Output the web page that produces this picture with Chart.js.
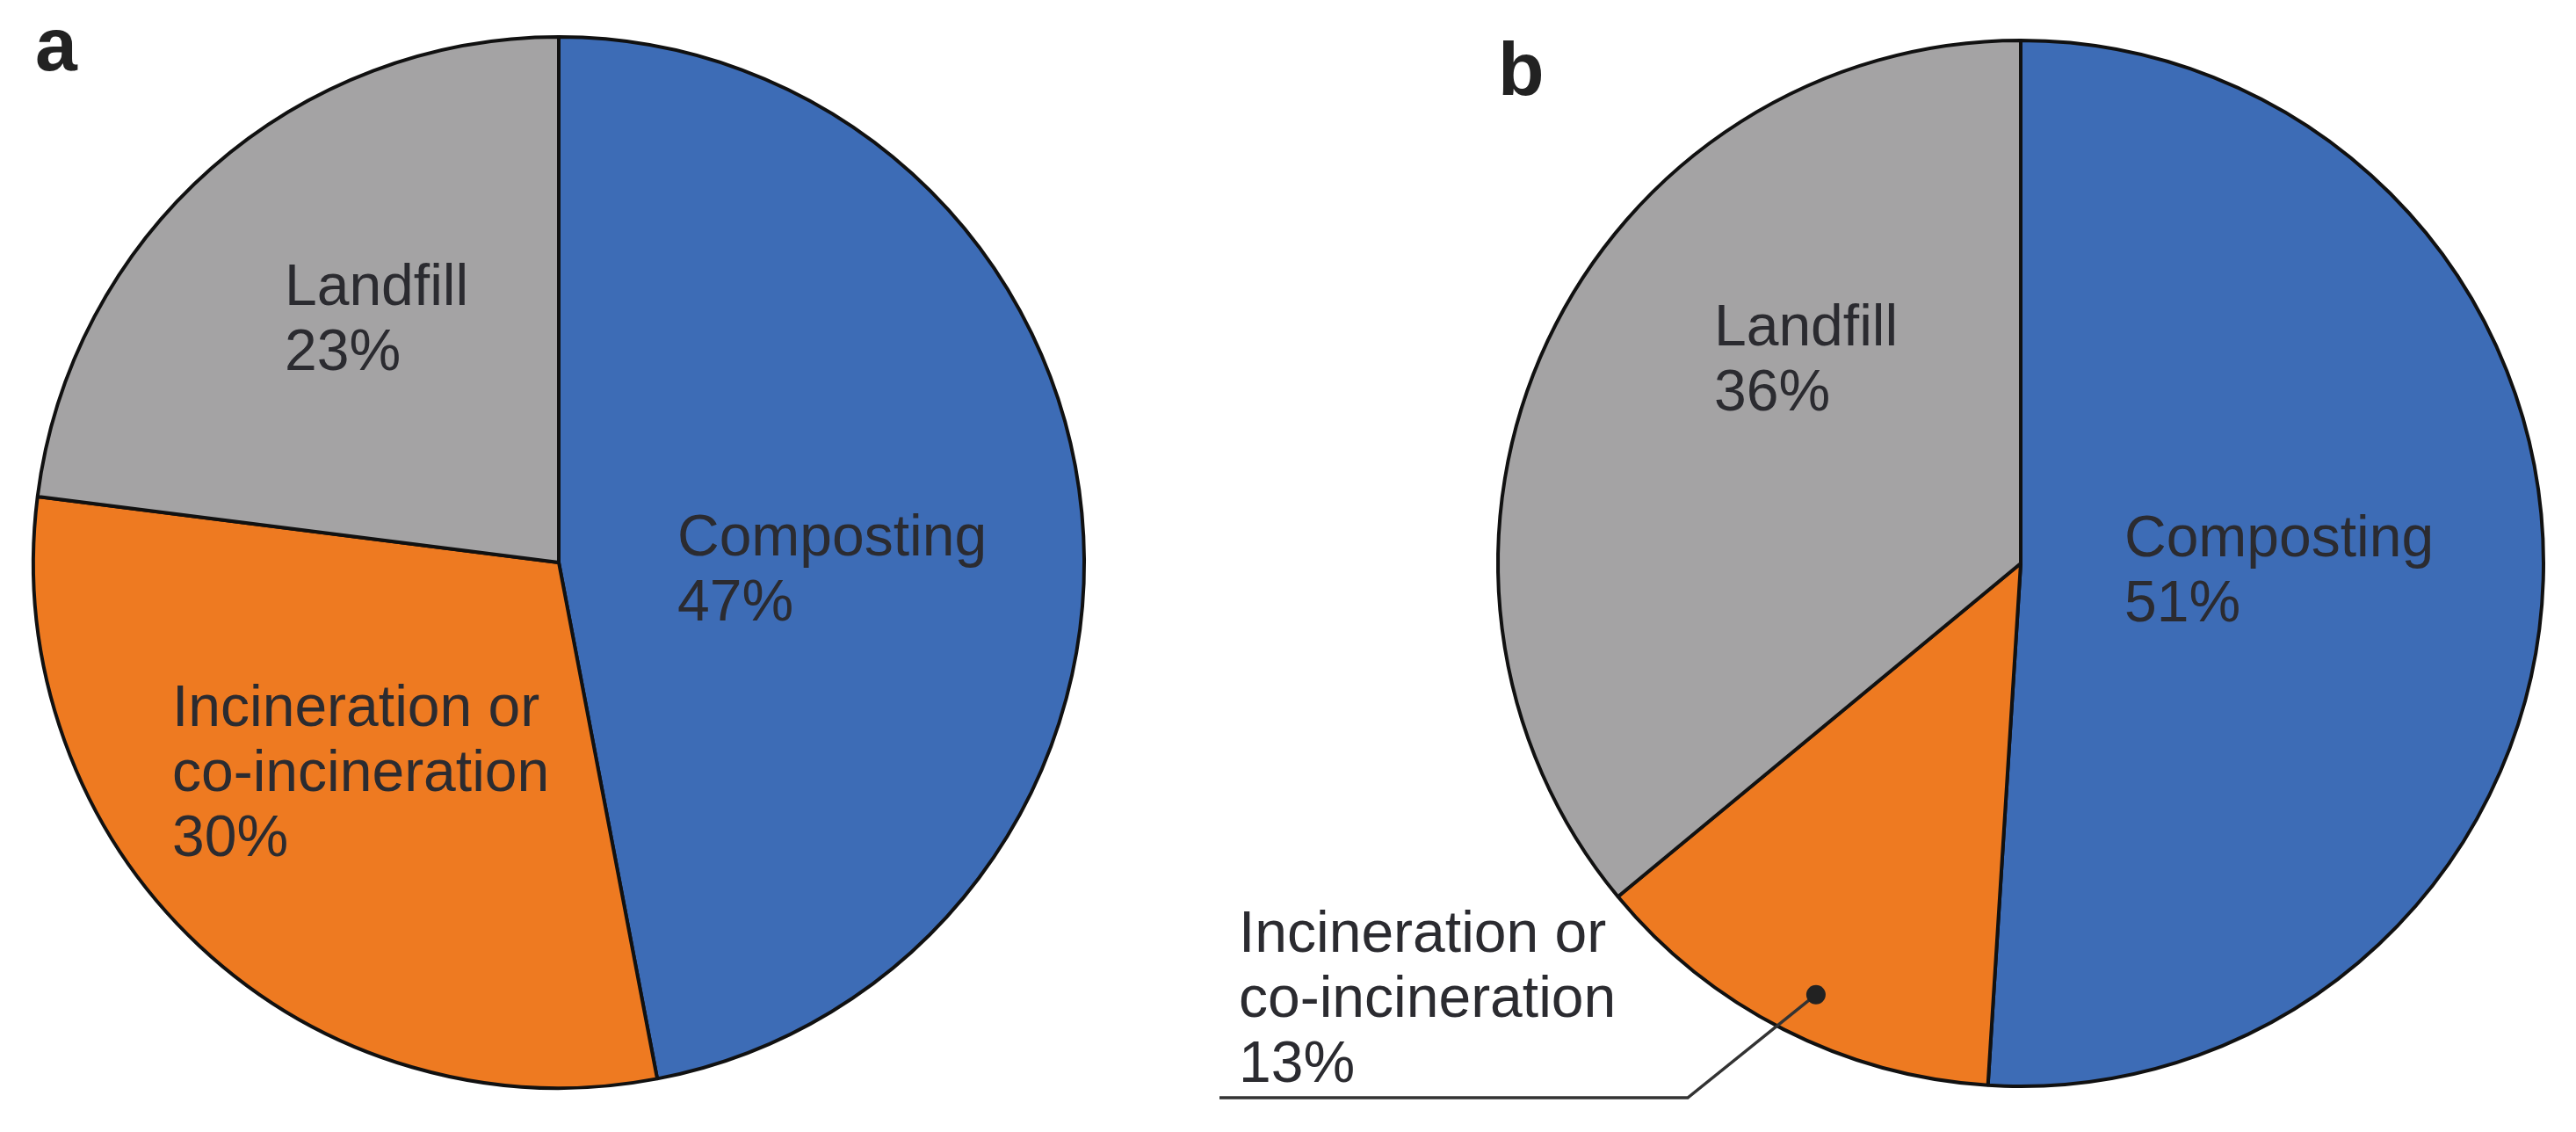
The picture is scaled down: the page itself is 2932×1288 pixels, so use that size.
<!DOCTYPE html>
<html>
<head>
<meta charset="utf-8">
<script src="https://cdn.jsdelivr.net/npm/chart.js@4.4.1/dist/chart.umd.min.js"></script>
<style>
  html, body { margin: 0; padding: 0; background: #fff; }
  body { width: 2932px; height: 1288px; overflow: hidden; position: relative; }
  canvas { position: absolute; top: 0; }
</style>
</head>
<body>
<canvas id="pieA" width="1300" height="1288" style="left:0"></canvas>
<canvas id="pieB" width="1632" height="1288" style="left:1300px"></canvas>
<script>
  // data
  const categories = ['Composting', 'Incineration or co-incineration', 'Landfill'];
  const labelLines = [['Composting'], ['Incineration or', 'co-incineration'], ['Landfill']];
  const sharesA = [47, 30, 23];
  const sharesB = [51, 13, 36];
  const sliceColors = ['#3d6cb6', '#ee7a21', '#a4a3a4'];

  const textFont = '66px "Liberation Sans", Arial, sans-serif';
  const panelFont = 'bold 86px "Liberation Sans", Arial, sans-serif';
  const lineGap = 74;

  // labels drawn inside / next to the slices, relative to the pie centre
  const sliceLabels = {
    id: 'sliceLabels',
    afterDatasetsDraw(chart, args, opts) {
      const ctx = chart.ctx;
      const arcs = chart.getDatasetMeta(0).data;
      const cx = arcs[0].x, cy = arcs[0].y, r = arcs[0].outerRadius;
      const values = chart.data.datasets[0].data;

      ctx.save();
      ctx.fillStyle = '#2b2b30';
      ctx.font = textFont;
      ctx.textAlign = 'left';
      ctx.textBaseline = 'alphabetic';
      chart.data.labels.forEach((name, i) => {
        const pos = opts.positions[i];
        const lines = labelLines[i].concat(values[i] + '%');
        lines.forEach((t, k) => ctx.fillText(t, cx + pos[0], cy + pos[1] + k * lineGap));
      });

      // leader line for a small slice
      if (opts.leader) {
        const arc = arcs[opts.leader.index];
        const ang = arc.startAngle + (arc.endAngle - arc.startAngle) * opts.leader.at;
        const dx = cx + Math.cos(ang) * r * opts.leader.depth;
        const dy = cy + Math.sin(ang) * r * opts.leader.depth;
        ctx.strokeStyle = '#333';
        ctx.lineWidth = 3.5;
        ctx.beginPath();
        ctx.moveTo(dx, dy);
        ctx.lineTo(cx + opts.leader.elbow[0], cy + opts.leader.elbow[1]);
        ctx.lineTo(cx + opts.leader.endX, cy + opts.leader.elbow[1]);
        ctx.stroke();
        ctx.fillStyle = '#222';
        ctx.beginPath();
        ctx.arc(dx, dy, 11, 0, Math.PI * 2);
        ctx.fill();
      }

      // panel letter
      ctx.fillStyle = '#222';
      ctx.font = panelFont;
      ctx.fillText(opts.panel, opts.panelAt[0], opts.panelAt[1]);
      ctx.restore();
    }
  };

  function makePie(id, values, radius, padding, labelOpts) {
    return new Chart(document.getElementById(id), {
      type: 'pie',
      data: {
        labels: categories,
        datasets: [{
          data: values,
          backgroundColor: sliceColors,
          borderColor: '#111',
          borderWidth: 4,
          hoverOffset: 0
        }]
      },
      options: {
        responsive: false,
        animation: false,
        events: [],
        radius: radius,
        layout: { padding: padding },
        plugins: {
          legend: { display: false },
          tooltip: { enabled: false },
          sliceLabels: labelOpts
        }
      },
      plugins: [sliceLabels]
    });
  }

  makePie('pieA', sharesA, 598, { left: 0, right: 28, top: 0, bottom: 8 }, {
    positions: [[135, -8], [-440, 186], [-312, -293]],
    panel: 'a',
    panelAt: [40, 80]
  });

  makePie('pieB', sharesB, 595, { left: 368, right: 0, top: 0, bottom: 6 }, {
    positions: [[118, -8], [-890, 442], [-349, -248]],
    leader: { index: 1, at: 0.466, depth: 0.913, elbow: [-379, 608], endX: -912 },
    panel: 'b',
    panelAt: [405, 108]
  });
</script>
</body>
</html>
